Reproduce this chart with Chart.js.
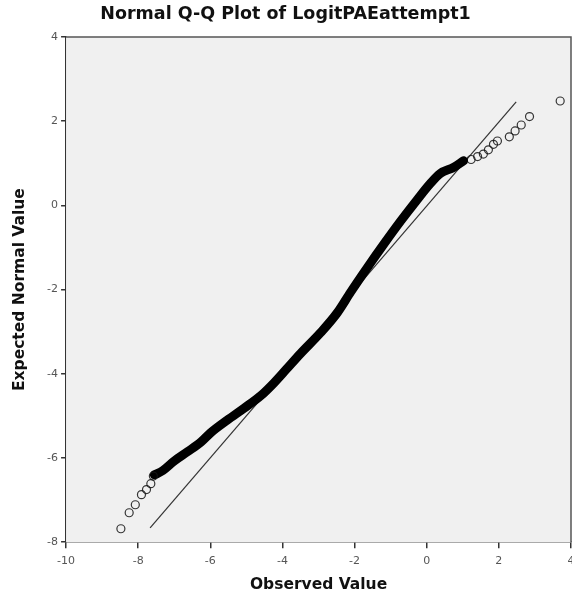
<!DOCTYPE html>
<html>
<head>
<meta charset="utf-8">
<script src="https://cdn.jsdelivr.net/npm/chart.js@4"></script>
<style>
  html, body { margin: 0; padding: 0; background: #fff; overflow: hidden; }
</style>
</head>
<body>
<canvas id="qq" width="572" height="596"></canvas>
<script>
// values (observed, expected)
const lowTailX = [-8.48, -8.25, -8.08, -7.91, -7.77, -7.65, -7.58];
const lowTailY = [-7.68, -7.30, -7.11, -6.87, -6.75, -6.61, -6.43];

// dense part of the plot, where the circles merge into one band
const bandX = [-7.55, -7.32, -7.00, -6.63, -6.26, -5.99, -5.53, -5.07, -4.60, -4.24, -3.90, -3.50, -2.94, -2.48, -2.11, -1.65, -1.19, -0.73, -0.27, 0.10, 0.38, 0.74, 1.02];
const bandY = [-6.40, -6.30, -6.07, -5.85, -5.62, -5.40, -5.10, -4.82, -4.52, -4.22, -3.90, -3.52, -3.02, -2.55, -2.06, -1.48, -0.92, -0.38, 0.13, 0.52, 0.76, 0.90, 1.06];

const highTailX = [1.23, 1.41, 1.57, 1.71, 1.85, 1.96, 2.29, 2.45, 2.62, 2.85, 3.70];
const highTailY = [1.09, 1.16, 1.22, 1.32, 1.45, 1.53, 1.63, 1.77, 1.91, 2.11, 2.48];

// reference line
const lineX = [-7.67, 2.48];
const lineY = [-7.66, 2.46];

const xTicks = [-10, -8, -6, -4, -2, 0, 2, 4];
const yTicks = [-8, -6, -4, -2, 0, 2, 4];

function pts(xs, ys) {
    return xs.map((x, i) => ({ x: x, y: ys[i] }));
}

// grey plot background and frame
const frame = {
    id: "frame",
    beforeDatasetsDraw(chart) {
        const a = chart.chartArea;
        const c = chart.ctx;
        c.save();
        c.fillStyle = "#f0f0f0";
        c.fillRect(a.left, a.top, a.right - a.left, a.bottom - a.top);
        c.restore();
    },
    afterDraw(chart) {
        const a = chart.chartArea;
        const c = chart.ctx;
        c.save();
        c.strokeStyle = "#555";
        c.lineWidth = 1.5;
        c.beginPath();
        c.moveTo(a.left, a.top);
        c.lineTo(a.right, a.top);
        c.lineTo(a.right, a.bottom);
        c.stroke();
        c.restore();
    }
};

const circle = {
    pointStyle: "circle",
    pointRadius: 4,
    pointBorderWidth: 1.2,
    pointBorderColor: "rgba(20,20,20,0.85)",
    pointBackgroundColor: "rgba(0,0,0,0)",
    showLine: false
};

new Chart(document.getElementById("qq"), {
    type: "scatter",
    data: {
        datasets: [
            Object.assign({ label: "low", data: pts(lowTailX, lowTailY) }, circle),
            {
                label: "band",
                data: pts(bandX, bandY),
                showLine: true,
                borderColor: "#000",
                borderWidth: 9,
                borderCapStyle: "round",
                borderJoinStyle: "round",
                cubicInterpolationMode: "monotone",
                pointRadius: 0
            },
            Object.assign({ label: "high", data: pts(highTailX, highTailY) }, circle),
            {
                label: "line",
                data: pts(lineX, lineY),
                showLine: true,
                borderColor: "#333",
                borderWidth: 1.2,
                pointRadius: 0
            }
        ]
    },
    options: {
        responsive: false,
        animation: false,
        layout: { padding: { right: 1 }, autoPadding: false },
        plugins: {
            legend: { display: false },
            tooltip: { enabled: false },
            title: {
                display: true,
                text: "Normal Q-Q Plot of LogitPAEattempt1",
                color: "#111",
                font: { family: "DejaVu Sans", size: 17.5, weight: "bold" },
                padding: { top: 4, bottom: 12 }
            }
        },
        scales: {
            x: {
                type: "linear",
                min: -10,
                max: 4,
                afterBuildTicks: s => { s.ticks = xTicks.map(v => ({ value: v })); },
                // the last label may run off the canvas, as in the original
                afterFit: s => { s.paddingRight = 0; },
                ticks: {
                    color: "#555",
                    font: { family: "DejaVu Sans", size: 11 },
                    padding: 6
                },
                grid: { drawOnChartArea: false, tickLength: 6, color: "#333", lineWidth: 1.5 },
                border: { color: "#333", width: 1.5 },
                title: {
                    display: true,
                    text: "Observed Value",
                    color: "#111",
                    font: { family: "DejaVu Sans", size: 15.5, weight: "bold" },
                    padding: { top: 2, bottom: 2 }
                }
            },
            y: {
                type: "linear",
                min: -8,
                max: 4,
                afterBuildTicks: s => { s.ticks = yTicks.map(v => ({ value: v })); },
                ticks: {
                    color: "#555",
                    font: { family: "DejaVu Sans", size: 11 },
                    padding: 3
                },
                grid: { drawOnChartArea: false, tickLength: 5, color: "#333", lineWidth: 1.5 },
                border: { color: "#333", width: 1.5 },
                title: {
                    display: true,
                    text: "Expected Normal Value",
                    color: "#111",
                    font: { family: "DejaVu Sans", size: 15.5, weight: "bold" },
                    padding: { top: 11, bottom: 14.5 }
                }
            }
        }
    },
    plugins: [frame]
});
</script>
</body>
</html>
